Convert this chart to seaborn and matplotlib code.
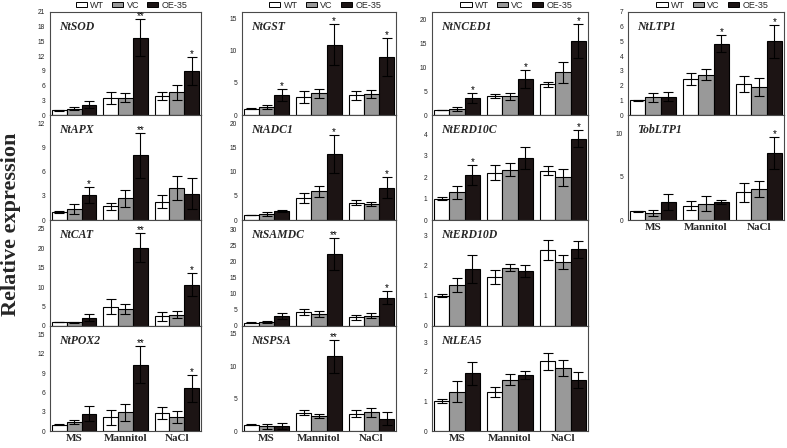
import numpy as np
import pandas as pd
import seaborn as sns
import matplotlib.pyplot as plt
from matplotlib.patches import Patch

conditions = ["MS", "Mannitol", "NaCl"]
lines = ["WT", "VC", "OE-35"]
bar_colors = ["#ffffff", "#999999", "#1c1414"]

# rows: WT, VC, OE-35 ; columns: MS, Mannitol, NaCl
sod_mean = [[1.0, 3.4, 3.9], [1.3, 3.5, 4.6], [2.1, 15.8, 9.0]]
sod_err = [[0.1, 1.2, 0.8], [0.3, 0.9, 1.6], [0.7, 3.7, 2.8]]
sod_sig = ["", "**", "*"]

apx_mean = [[1.0, 1.7, 2.3], [1.4, 2.7, 4.0], [3.1, 8.1, 3.3]]
apx_err = [[0.1, 0.4, 0.8], [0.6, 1.1, 1.5], [1.0, 2.8, 1.9]]
apx_sig = ["*", "**", ""]

cat_mean = [[1.0, 5.0, 2.5], [0.9, 4.3, 2.9], [2.1, 20.1, 10.6]]
cat_err = [[0.1, 1.9, 1.2], [0.2, 1.3, 0.9], [0.9, 3.8, 3.0]]
cat_sig = ["", "**", "*"]

pox_mean = [[1.0, 2.1, 2.8], [1.4, 2.9, 2.2], [2.7, 10.3, 6.6]]
pox_err = [[0.1, 1.2, 1.0], [0.3, 1.3, 0.9], [1.2, 2.9, 2.1]]
pox_sig = ["", "**", "*"]

gst_mean = [[1.0, 2.8, 3.1], [1.3, 3.4, 3.3], [3.1, 10.9, 9.0]]
gst_err = [[0.05, 0.9, 0.7], [0.3, 0.7, 0.6], [1.0, 3.2, 2.9]]
gst_sig = ["*", "*", "*"]

adc_mean = [[1.0, 4.6, 3.6], [1.3, 5.9, 3.3], [1.9, 13.7, 6.7]]
adc_err = [[0.05, 1.0, 0.6], [0.4, 1.2, 0.5], [0.15, 3.9, 2.1]]
adc_sig = ["", "*", "*"]

samdc_mean = [[1.0, 4.3, 2.7], [1.2, 3.8, 3.2], [3.2, 22.3, 8.8]]
samdc_err = [[0.1, 1.0, 0.7], [0.3, 1.0, 0.7], [0.9, 4.9, 2.0]]
samdc_sig = ["", "**", "*"]

spsa_mean = [[1.0, 2.8, 2.7], [0.7, 2.3, 2.9], [0.8, 11.5, 1.9]]
spsa_err = [[0.05, 0.4, 0.5], [0.4, 0.3, 0.7], [0.5, 2.6, 1.0]]
spsa_sig = ["", "**", ""]

nced_mean = [[1.0, 3.9, 6.4], [1.3, 3.9, 8.9], [3.6, 7.5, 15.5]]
nced_err = [[0.05, 0.4, 0.5], [0.4, 0.7, 2.2], [1.0, 1.9, 3.5]]
nced_sig = ["*", "*", "*"]

erd10c_mean = [[1.0, 2.2, 2.3], [1.3, 2.35, 2.0], [2.1, 2.9, 3.8]]
erd10c_err = [[0.05, 0.35, 0.2], [0.3, 0.3, 0.4], [0.45, 0.5, 0.4]]
erd10c_sig = ["*", "", "*"]

erd10d_mean = [[1.0, 1.62, 2.5], [1.35, 1.93, 2.12], [1.88, 1.82, 2.53]]
erd10d_err = [[0.05, 0.23, 0.33], [0.22, 0.12, 0.23], [0.45, 0.2, 0.27]]
erd10d_sig = ["", "", ""]

lea5_mean = [[1.0, 1.32, 2.35], [1.33, 1.74, 2.13], [1.95, 1.9, 1.73]]
lea5_err = [[0.07, 0.16, 0.28], [0.35, 0.18, 0.26], [0.38, 0.14, 0.26]]
lea5_sig = ["", "", ""]

ltp1_mean = [[1.0, 2.45, 2.1], [1.2, 2.75, 1.9], [1.25, 4.85, 5.0]]
ltp1_err = [[0.05, 0.4, 0.55], [0.3, 0.4, 0.6], [0.3, 0.6, 1.1]]
ltp1_sig = ["", "*", "*"]

tobltp1_mean = [[1.0, 1.65, 3.2], [0.85, 1.9, 3.6], [2.1, 2.1, 7.8]]
tobltp1_err = [[0.1, 0.5, 1.1], [0.35, 0.9, 0.9], [0.95, 0.25, 1.9]]
tobltp1_sig = ["", "", "*"]

# (gene, means, errors, marks, ymax, last tick, tick step)
panels = [
    [("NtSOD", sod_mean, sod_err, sod_sig, 21, 21, 3),
     ("NtAPX", apx_mean, apx_err, apx_sig, 13.1, 12, 3),
     ("NtCAT", cat_mean, cat_err, cat_sig, 27.2, 25, 5),
     ("NtPOX2", pox_mean, pox_err, pox_sig, 16.3, 15, 3)],
    [("NtGST", gst_mean, gst_err, gst_sig, 16, 15, 5),
     ("NtADC1", adc_mean, adc_err, adc_sig, 21.7, 20, 5),
     ("NtSAMDC", samdc_mean, samdc_err, samdc_sig, 32.9, 30, 5),
     ("NtSPSA", spsa_mean, spsa_err, spsa_sig, 16.2, 15, 5)],
    [("NtNCED1", nced_mean, nced_err, nced_sig, 21.5, 20, 5),
     ("NtERD10C", erd10c_mean, erd10c_err, erd10c_sig, 4.9, 4, 1),
     ("NtERD10D", erd10d_mean, erd10d_err, erd10d_sig, 3.5, 3, 1),
     ("NtLEA5", lea5_mean, lea5_err, lea5_sig, 3.55, 3, 1)],
    [("NtLTP1", ltp1_mean, ltp1_err, ltp1_sig, 7, 7, 1),
     ("TobLTP1", tobltp1_mean, tobltp1_err, tobltp1_sig, 12.2, 10, 5)],
]

W, H = 787, 448
col_x = [(50, 201), (242, 396), (432, 588), (628, 784)]
row_y = [12, 115, 220, 326, 431]

sns.set_style("white")
plt.rcParams['font.family'] = ['Liberation Sans', 'DejaVu Sans']
SERIF = ['Liberation Serif', 'DejaVu Serif']
FRAME = "#4a4a4a"

fig = plt.figure(figsize=(W / 100, H / 100), dpi=100)


def draw_panel(ax, gene, mean, err, sig, ymax, ytop, step, bottom):
    df = pd.DataFrame({
        "condition": conditions * 3,
        "line": np.repeat(lines, 3),
        "value": np.ravel(mean),
    })
    sns.barplot(data=df, x="condition", y="value", hue="line", order=conditions,
                hue_order=lines, palette=bar_colors, saturation=1, width=0.87,
                edgecolor="black", linewidth=0.8, errorbar=None, legend=False, ax=ax)
    bar_groups = list(ax.containers)
    for i, cont in enumerate(bar_groups):
        for j, bar in enumerate(cont):
            xc = bar.get_x() + bar.get_width() / 2
            h = bar.get_height()
            e = err[i][j]
            ax.errorbar(xc, h, yerr=e, fmt="none", ecolor="black",
                        elinewidth=0.8, capsize=3.3, capthick=0.8, zorder=3)
            if i == 2 and sig[j]:
                ax.annotate(sig[j], (xc, h + e), xytext=(0, -1.5), textcoords="offset points",
                            ha="center", va="bottom", fontsize=7, color="black")
    ax.set_xlim(-0.47, 2.47)
    ax.set_ylim(0, ymax)
    ticks = np.arange(0, ytop + 1e-6, step)
    ax.set_yticks(ticks)
    ax.set_yticklabels([f"{t:g}" for t in ticks])
    ax.set_xlabel("")
    ax.set_ylabel("")
    ax.tick_params(axis="y", length=2.5, width=0.6, color=FRAME, labelsize=4.8, pad=1,
                   labelcolor="#222222")
    ax.tick_params(axis="x", length=0, pad=2.5)
    ax.set_xticks(range(3))
    if bottom:
        ax.set_xticklabels(conditions, fontsize=8, fontweight="bold", family=SERIF)
    else:
        ax.set_xticklabels([])
    for s in ax.spines.values():
        s.set_visible(True)
        s.set_color(FRAME)
        s.set_linewidth(0.8)
    ax.text(0.06, 0.855, gene, transform=ax.transAxes, ha="left", va="center",
            fontsize=8.5, fontweight="bold", fontstyle="italic", family=SERIF)


handles = [Patch(facecolor=c, edgecolor="black", linewidth=0.7, label=l)
           for c, l in zip(bar_colors, lines)]

for c, col in enumerate(panels):
    x0, x1 = col_x[c]
    for r, spec in enumerate(col):
        y0, y1 = row_y[r], row_y[r + 1]
        ax = fig.add_axes([x0 / W, 1 - y1 / H, (x1 - x0) / W, (y1 - y0) / H])
        draw_panel(ax, *spec, bottom=(r == len(col) - 1))
        if r == 0:
            ax.legend(handles=handles, loc="lower center", bbox_to_anchor=(0.54, 1.0),
                      ncol=3, frameon=False, fontsize=6.5, handlelength=1.25,
                      handleheight=0.6, handletextpad=0.35, columnspacing=0.9,
                      borderaxespad=0.15, borderpad=0.1)

fig.text(0.014, 0.5, "Relative expression", rotation=90, ha="center", va="center",
         fontsize=16, fontweight="bold", family=SERIF)

fig.savefig("out.png", dpi=100, facecolor="white")
